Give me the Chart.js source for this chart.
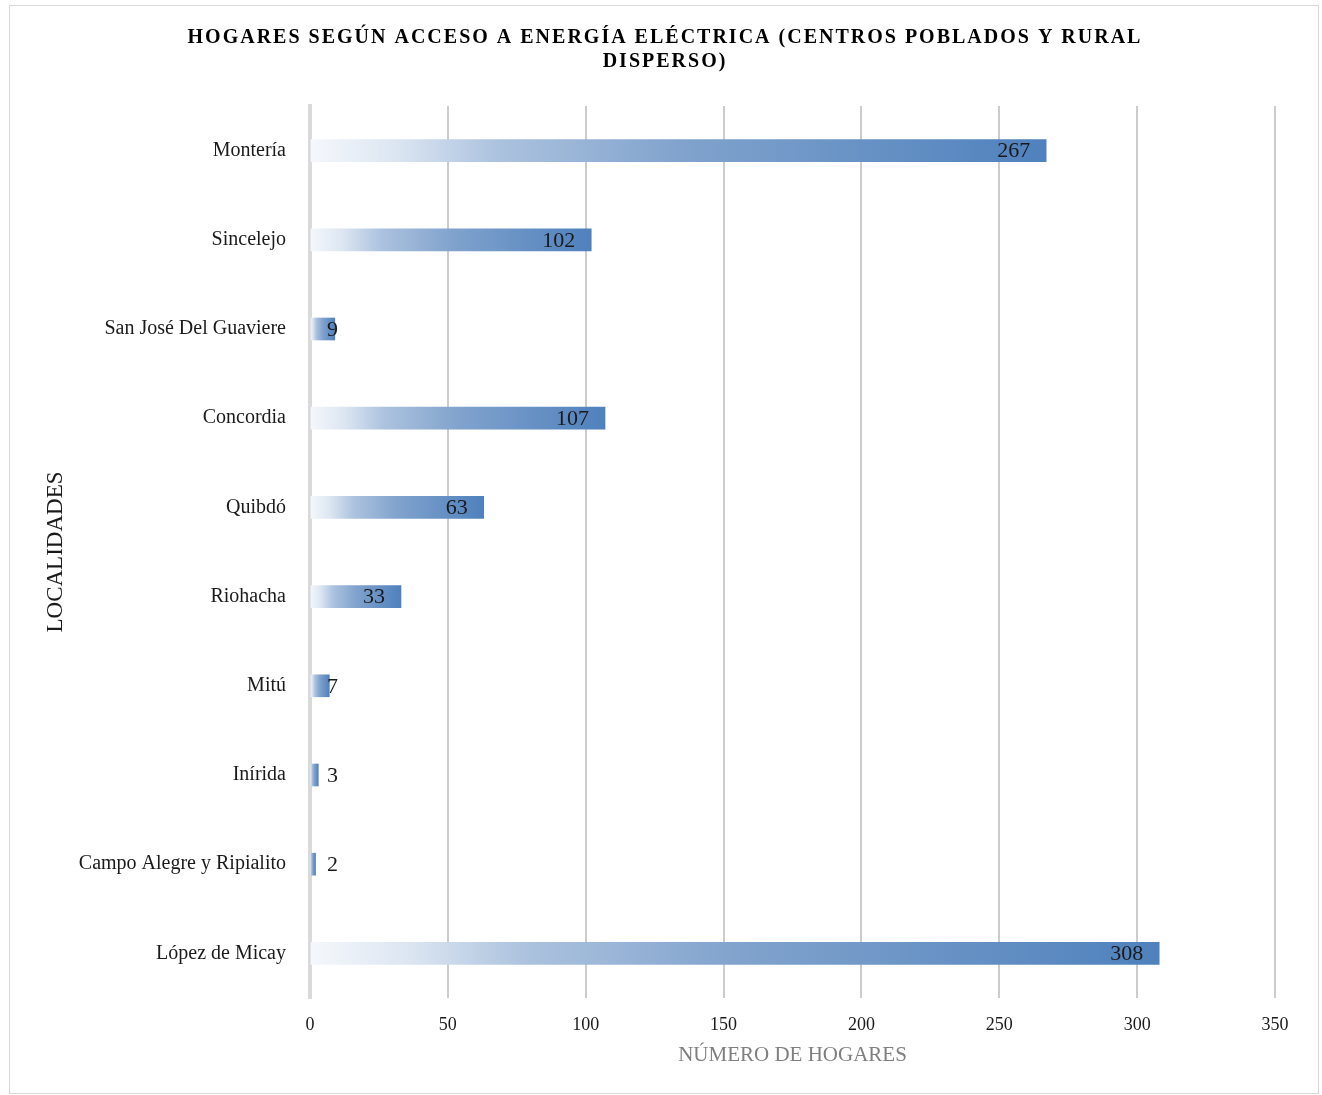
<!DOCTYPE html>
<html lang="es">
<head>
    <meta charset="UTF-8">
    <title>Hogares según acceso a energía eléctrica</title>
    <script src="https://cdn.jsdelivr.net/npm/chart.js"></script>
    <style>
        * { margin: 0; padding: 0; box-sizing: content-box; }
        html, body { width: 100%; height: 100%; background: #fff; }
        .frame {
            position: absolute; left: 9px; top: 5px;
            width: 1308px; height: 1087px;
            border: 1px solid #d9d9d9;
        }
    </style>
</head>
<body>
    <div class="frame"><canvas id="chart"></canvas></div>

    <script>
        const titleLines = ['HOGARES SEGÚN ACCESO A ENERGÍA ELÉCTRICA (CENTROS POBLADOS Y RURAL', 'DISPERSO)'];
        const localidades = ['Montería', 'Sincelejo', 'San José Del Guaviere', 'Concordia', 'Quibdó',
            'Riohacha', 'Mitú', 'Inírida', 'Campo Alegre y Ripialito', 'López de Micay'];
        const hogares = [267, 102, 9, 107, 63, 33, 7, 3, 2, 308];
        const xMin = 0, xMax = 350, xStep = 50;

        const serif = '"Liberation Serif", "DejaVu Serif", serif';

        // bar fill: white on the left fading into blue at the bar end
        function barGradient(c) {
            const chart = c.chart;
            const xs = chart.scales.x;
            if (!chart.chartArea || !xs || c.dataIndex === undefined) return '#4f81bd';
            const v = c.dataset.data[c.dataIndex];
            const x0 = xs.getPixelForValue(0), x1 = xs.getPixelForValue(v);
            if (x1 - x0 < 1) return '#4f81bd';
            const g = chart.ctx.createLinearGradient(x0, 0, x1, 0);
            g.addColorStop(0, '#f5f8fc');
            g.addColorStop(0.12, '#dbe5f1');
            g.addColorStop(0.25, '#adc3df');
            g.addColorStop(0.5, '#81a3cd');
            g.addColorStop(1, '#4f81bd');
            return g;
        }

        const titlePlugin = {
            id: 'bigTitle',
            afterDraw(chart) {
                const ctx = chart.ctx;
                ctx.save();
                ctx.font = 'bold 20px ' + serif;
                ctx.letterSpacing = '2px';
                ctx.fillStyle = '#000';
                ctx.textAlign = 'center';
                ctx.textBaseline = 'middle';
                titleLines.forEach((t, i) => ctx.fillText(t, chart.width / 2 + 1, 32 + i * 24));
                ctx.restore();
            }
        };

        const valueLabels = {
            id: 'valueLabels',
            afterDatasetsDraw(chart) {
                const ctx = chart.ctx;
                const meta = chart.getDatasetMeta(0);
                ctx.save();
                ctx.font = '22px ' + serif;
                ctx.fillStyle = '#1a1a1a';
                ctx.textAlign = 'right';
                ctx.textBaseline = 'middle';
                meta.data.forEach((bar, i) => {
                    const x = Math.max(bar.x - 16, bar.base + 27);
                    ctx.fillText(String(hogares[i]), x, bar.y + 1);
                });
                ctx.restore();
            }
        };

        new Chart(document.getElementById('chart'), {
            type: 'bar',
            data: {
                labels: localidades,
                datasets: [{
                    data: hogares,
                    backgroundColor: barGradient,
                    borderWidth: 0,
                    barThickness: 22
                }]
            },
            options: {
                indexAxis: 'y',
                responsive: true,
                maintainAspectRatio: false,
                animation: false,
                layout: { padding: { top: 100, right: 43, bottom: 0, left: 0 } },
                plugins: {
                    legend: { display: false },
                    title: { display: false },
                    tooltip: { enabled: false }
                },
                scales: {
                    x: {
                        min: xMin, max: xMax,
                        afterFit: s => { s.height = 95; },
                        ticks: {
                            stepSize: xStep,
                            padding: 16,
                            color: '#1a1a1a',
                            font: { family: serif, size: 18 }
                        },
                        grid: {
                            color: c => c.index === 0 ? '#d9d9d9' : '#cccccc',
                            lineWidth: 2,
                            drawTicks: false
                        },
                        border: { display: false },
                        title: {
                            display: true,
                            text: 'NÚMERO DE HOGARES',
                            color: '#7f7f7f',
                            font: { family: serif, size: 21 },
                            padding: { top: 0, bottom: 25 }
                        }
                    },
                    y: {
                        afterFit: s => { s.width = 300; },
                        ticks: {
                            padding: 24,
                            color: '#1a1a1a',
                            font: { family: serif, size: 20 }
                        },
                        grid: { display: false, drawTicks: false },
                        border: { display: true, color: '#d9d9d9', width: 4 },
                        title: {
                            display: true,
                            text: 'LOCALIDADES',
                            color: '#1a1a1a',
                            font: { family: serif, size: 23 },
                            padding: { top: 32, bottom: 0 }
                        }
                    }
                }
            },
            plugins: [titlePlugin, valueLabels]
        });
    </script>
</body>
</html>
